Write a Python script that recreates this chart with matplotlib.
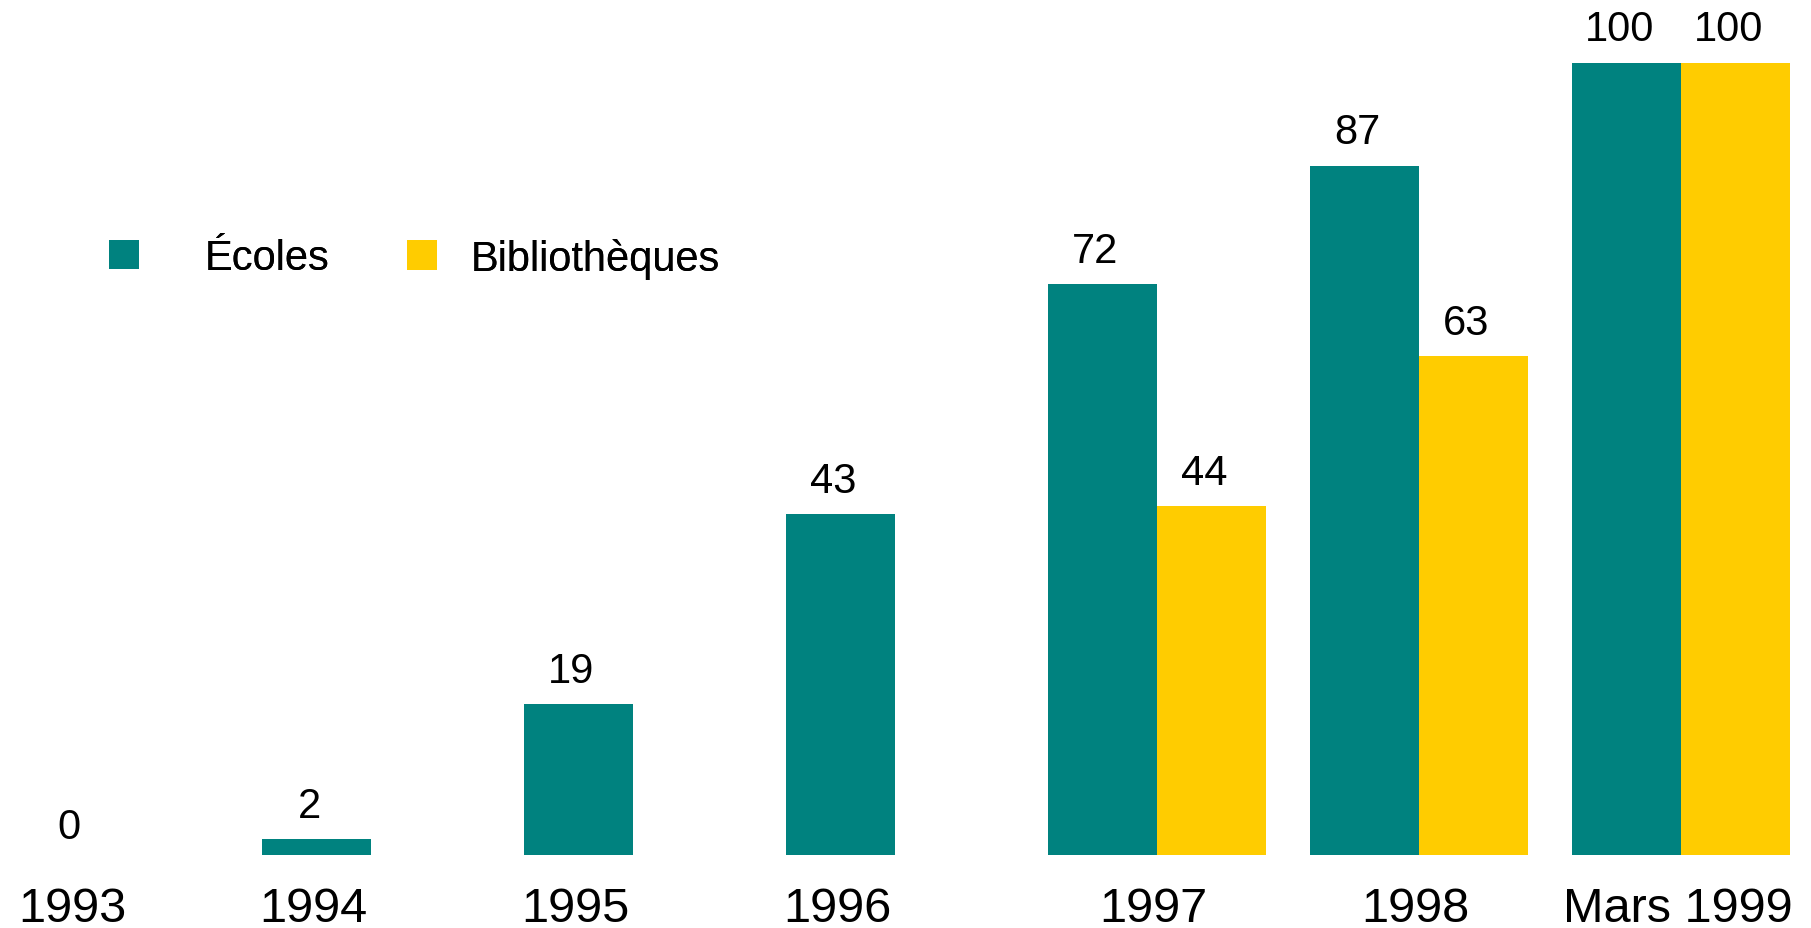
import matplotlib
matplotlib.use("Agg")
import matplotlib.pyplot as plt
from matplotlib.patches import Patch

categories = ["1993", "1994", "1995", "1996", "1997", "1998", "Mars 1999"]
ecoles = [0, 2, 19, 43, 72, 87, 100]
bibliotheques = [None, None, None, None, 44, 63, 100]
series_names = ["Écoles", "Bibliothèques"]

TEAL = "#00827F"
YELLOW = "#FFCC00"

plt.rcParams["font.family"] = ["Liberation Sans", "DejaVu Sans"]

W, H = 1811, 929
fig = plt.figure(figsize=(W / 100, H / 100), dpi=100)
base_px = 856
ax = fig.add_axes([0, 1 - base_px / H, 1, base_px / H])

unit_px = 262.0
x0_px = 54.5
bw = 109 / unit_px
ax.set_xlim(-x0_px / unit_px, (W - x0_px) / unit_px)
ax.set_ylim(0, base_px / 7.925)

xs = list(range(len(categories)))
ax.bar(xs, ecoles, width=bw, color=TEAL, align="center", label=series_names[0])
bx = [x + bw for x, v in zip(xs, bibliotheques) if v is not None]
bv = [v for v in bibliotheques if v is not None]
ax.bar(bx, bv, width=bw, color=YELLOW, align="center", label=series_names[1])

# first category sits at the left edge; its texts are nudged inside the figure
first_shift = 0.055

ticks = []
for i, (x, v) in enumerate(zip(xs, bibliotheques)):
    t = x + bw / 2 if v is not None else x
    if i == 0:
        t += first_shift + 0.025
    t -= 0.012
    ticks.append(t)
ax.set_xticks(ticks)
ax.set_xticklabels(categories, fontsize=35)
ax.tick_params(axis="x", length=0, pad=22)
ax.set_yticks([])
for s in ax.spines.values():
    s.set_visible(False)

lbl_kw = dict(textcoords="offset points", ha="center", va="baseline", fontsize=30)
for i, (x, v) in enumerate(zip(xs, ecoles)):
    xx = x + (first_shift if i == 0 else 0)
    ax.annotate(str(v), (xx, v), xytext=(-5 if i else 0, 16 if i else 12), **lbl_kw)
for x, v in zip(bx, bv):
    ax.annotate(str(v), (x, v), xytext=(-5, 16), **lbl_kw)

# legend: two single-entry legends (the gaps between square and text differ)
leg_specs = [(TEAL, series_names[0], 109, 1.58), (YELLOW, series_names[1], 407, 0.8)]
for color, name, left_px, pad in leg_specs:
    leg = fig.legend([Patch(facecolor=color, edgecolor="none")], [name], loc="center left",
                     bbox_to_anchor=(left_px / W, 1 - 259 / H), bbox_transform=fig.transFigure,
                     frameon=False, fontsize=30, borderpad=0, borderaxespad=0,
                     handlelength=0.72, handleheight=0.72, handletextpad=pad)
    fig.add_artist(leg)

fig.savefig("out.png", dpi=100)
